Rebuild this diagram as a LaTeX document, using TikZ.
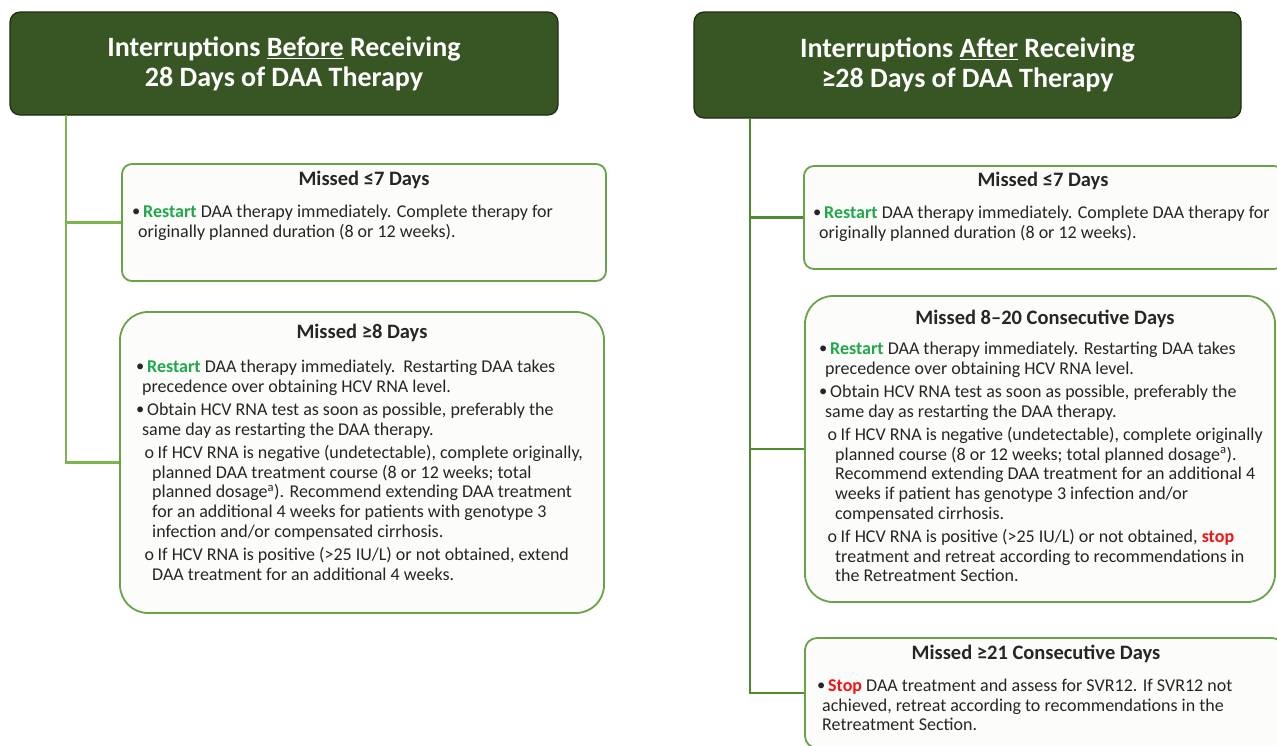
\documentclass[tikz,border=0pt]{standalone}
\usepackage{fontspec}
\setmainfont{Carlito}
\definecolor{hdr}{HTML}{375623}
\definecolor{hdrline}{HTML}{1F2E12}
\definecolor{boxline}{HTML}{68A446}
\definecolor{connL}{HTML}{7DB54F}
\definecolor{connR}{HTML}{4E8A2E}
\definecolor{okgreen}{HTML}{1FA84A}
\definecolor{stopred}{HTML}{F01515}
\definecolor{txt}{HTML}{262626}
\definecolor{boxfill}{HTML}{FCFCFB}
\newcommand\myBul{\makebox[11pt][l]{\raisebox{0.8pt}{\fontsize{16.5}{16.5}\selectfont •}}}
\newcommand\myCont{\hspace*{6pt}}
\newcommand\mySub{\hspace*{8.5pt}\makebox[13pt][l]{o}}
\newcommand\mySubCont{\hspace*{16pt}}
\newcommand\go[1]{\textcolor{okgreen}{\bfseries #1}}
\newcommand\halt[1]{\textcolor{stopred}{\bfseries #1}}
\tikzset{
  header/.style={draw=hdrline, line width=1.2pt, fill=hdr, rounded corners=10pt,
    text=white, font=\fontsize{28}{30}\selectfont\bfseries, align=center, inner sep=0pt},
  panel/.style={draw=boxline, line width=1.8pt, fill=boxfill, inner sep=0pt},
  ptitle/.style={font=\fontsize{20.5}{22}\selectfont\bfseries, text=txt, inner sep=0pt},
  pbody/.style={font=\fontsize{18}{19.7}\selectfont, text=txt, align=left,
    inner sep=0pt, anchor=north west},
  link/.style={line width=2.2pt},
}
\begin{document}
\begin{tikzpicture}[x=1pt,y=-1pt]
\clip (0,0) rectangle (1277,745);
\fill[white] (0,0) rectangle (1277,745);
% headers
\node[header, minimum width=548pt, minimum height=103pt] (lh) at (284,63.5)
  {Interruptions \underline{Before} Receiving\\28 Days of DAA Therapy};
\node[header, minimum width=547pt, minimum height=106pt] (rh) at (967.5,65)
  {Interruptions \underline{After} Receiving\\≥28 Days of DAA Therapy};
% spine coordinates
\coordinate (lsp) at (66,115);
\coordinate (rsp) at (750,118);
\coordinate (rend) at (750,693);
% boxes
\node[panel, rounded corners=10pt, minimum width=484pt, minimum height=117pt] (lb1) at (364,222.5) {};
\node[panel, rounded corners=28pt, minimum width=484pt, minimum height=301pt] (lb2) at (362,462.5) {};
\node[panel, rounded corners=10pt, minimum width=480pt, minimum height=103pt] (rb1) at (1044,217.5) {};
\node[panel, rounded corners=28pt, minimum width=470pt, minimum height=306pt] (rb2) at (1040,449) {};
\node[panel, rounded corners=12pt, minimum width=479pt, minimum height=110pt] (rb3) at (1044.5,693) {};
% connectors
\draw[link, connL] (lsp) |- (lb2.west);
\draw[link, connL] (lsp |- lb1.west) -- (lb1.west);
\draw[link, connR] (rsp) -- (rend) -- (rb3.west);
\draw[link, connR] (rsp |- rb1.west) -- (rb1.west);
\draw[link, connR] (rsp |- rb2.west) -- (rb2.west);
% titles
\node[ptitle] (lt1) at (364,180) {Missed ≤7 Days};
\node[ptitle] (lt2) at (362,333) {Missed ≥8 Days};
\node[ptitle] (rt1) at (1043,181) {Missed ≤7 Days};
\node[ptitle] (rt2) at (1045,319) {Missed 8–20 Consecutive Days};
\node[ptitle] (rt3) at (1036,654) {Missed ≥21 Consecutive Days};
% bodies
\node[pbody] (lx1) at (132,203.5) {\strut\myBul\go{Restart} DAA therapy immediately. Complete therapy for\\
\myCont originally planned duration (8 or 12 weeks).};
\node[pbody] (lx2) at (136,358.5) {\strut\myBul\go{Restart} DAA therapy immediately.\ \ Restarting DAA takes\\
\myCont precedence over obtaining HCV RNA level.\\[3.5pt]
\myBul Obtain HCV RNA test as soon as possible, preferably the\\
\myCont same day as restarting the DAA therapy.\\[3.5pt]
\mySub If HCV RNA is negative (undetectable),\ complete originally,\\
\mySubCont planned DAA treatment course (8 or 12 weeks; total\\
\mySubCont planned dosage\textsuperscript{a}). Recommend extending DAA treatment\\
\mySubCont for an additional 4 weeks for patients with genotype 3\\
\mySubCont infection and/or compensated cirrhosis.\\[3.5pt]
\mySub If HCV RNA is positive (>25 IU/L) or not obtained, extend\\
\mySubCont DAA treatment\ for an additional 4 weeks.};
\node[pbody] (rx1) at (813,204.5) {\strut\myBul\go{Restart} DAA therapy immediately. Complete\ DAA therapy for\\
\myCont originally planned duration (8 or 12 weeks).};
\node[pbody] (rx2) at (819,340.5) {\strut\myBul\go{Restart} DAA therapy immediately. Restarting DAA takes\\
\myCont precedence over obtaining HCV RNA level.\\[3.5pt]
\myBul Obtain HCV RNA test as soon as possible, preferably the\\
\myCont same day as restarting the DAA therapy.\\[3.5pt]
\mySub If HCV RNA is negative (undetectable),\ complete originally\\
\mySubCont planned course (8 or 12 weeks; total planned dosage\textsuperscript{a}).\\
\mySubCont Recommend extending DAA treatment for an additional 4\\
\mySubCont weeks if patient\ has genotype 3 infection and/or\\
\mySubCont compensated cirrhosis.\\[3.5pt]
\mySub If HCV RNA is positive (>25 IU/L) or not obtained, \halt{stop}\\
\mySubCont treatment and retreat according to recommendations in\\
\mySubCont the Retreatment Section.};
\node[pbody] (rx3) at (817,677.5) {\strut\myBul\halt{Stop} DAA treatment and assess for SVR12. If SVR12 not\\
\hspace*{5pt}achieved, retreat according to recommendations in the\\
\hspace*{5pt}Retreatment Section.};
\end{tikzpicture}
\end{document}
